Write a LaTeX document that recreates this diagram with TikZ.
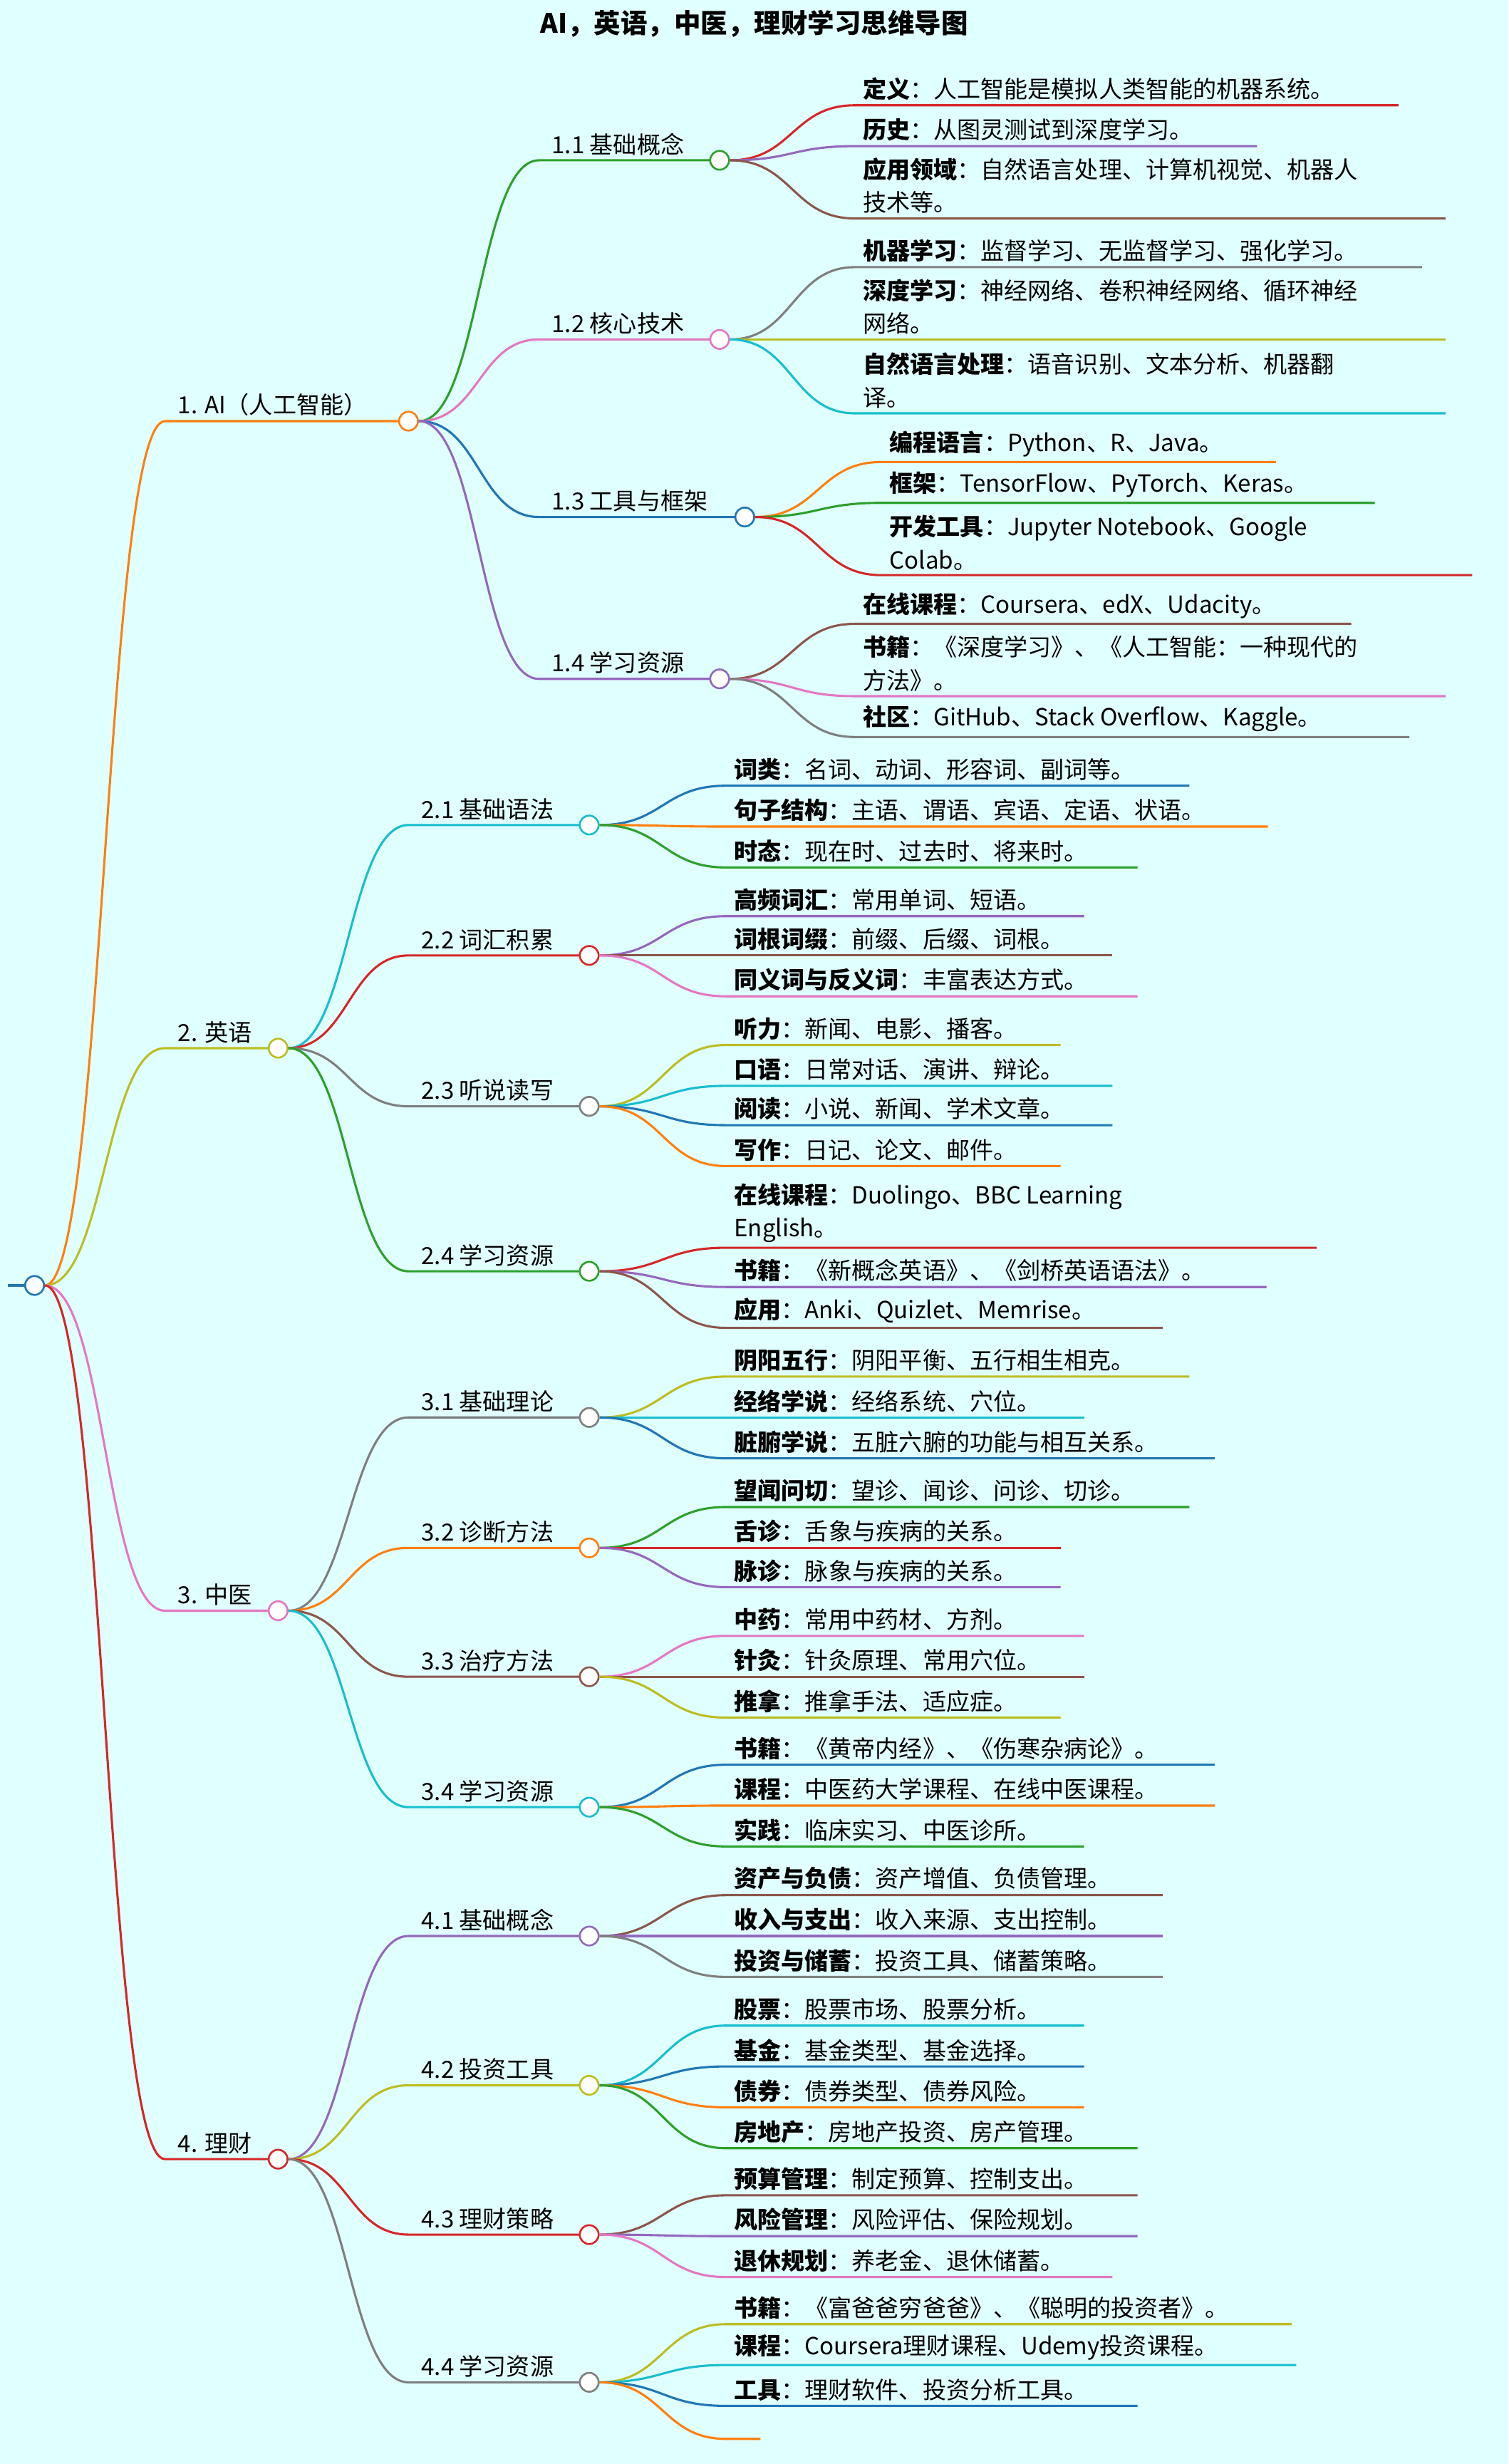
\documentclass[tikz,border=0pt]{standalone}
\usepackage{fontspec}
\setmainfont{Noto Sans CJK SC}
\usetikzlibrary{calc}
\definecolor{cblue}{HTML}{1F77B4}\definecolor{corange}{HTML}{FF7F0E}
\definecolor{cgreen}{HTML}{2CA02C}\definecolor{cred}{HTML}{D62728}
\definecolor{cpurple}{HTML}{9467BD}\definecolor{cbrown}{HTML}{8C564B}
\definecolor{cpink}{HTML}{E377C2}\definecolor{cgray}{HTML}{7F7F7F}
\definecolor{colive}{HTML}{BCBD22}\definecolor{ccyan}{HTML}{17BECF}
\definecolor{bgc}{HTML}{E0FFFF}
\tikzset{edge/.style={line width=1.4pt},
 dot/.style={circle,draw=#1,fill=white,line width=1.2pt,minimum size=12pt,inner sep=0pt},
 txt/.style={anchor=south west,inner sep=0pt,align=left,font=\fontsize{15}{21}\selectfont}}
% #1 parent, #2 textx, #3 liney, #4 endx, #5 color, #6 text, #7 id
\newcommand\conn[3]{\coordinate (#3m) at ($(#1.east)!.5!(#2)$);
 \draw[edge,#3c] (#1.east) .. controls (#3m |- #1.east) and (#3m |- #2) .. (#2);}
\newcommand\lf[7]{\coordinate (#7s) at (#2-5,#3);\coordinate (#7e) at (#4,#3);
 \coordinate (#7m) at ($(#1.east)!.5!(#7s)$);
 \draw[edge,#5] (#1.east) .. controls (#7m |- #1.east) and (#7m |- #7s) .. (#7s) -- (#7e);
 \node[txt] (#7t) at (#2,#3-3) {#6};}
% branch: #1 parent, #2 textx, #3 liney, #4 circle x, #5 color, #6 text, #7 id
\newcommand\br[7]{\coordinate (#7s) at (#2-8,#3);
 \coordinate (#7m) at ($(#1.east)!.5!(#7s)$);
 \draw[edge,#5] (#1.east) .. controls (#7m |- #1.east) and (#7m |- #7s) .. (#7s) -- (#4,#3);
 \node[dot=#5] (#7) at (#4,#3) {};
 \node[txt] (#7t) at (#2,#3-3) {#6};}
\begin{document}
\begin{tikzpicture}[x=1pt,y=-1pt]
\fill[bgc] (0,0) rectangle (960,1568);
\useasboundingbox (0,0) rectangle (960,1568);
\node[font=\fontsize{17}{20}\selectfont\bfseries] (title) at (480,15) {AI，英语，中医，理财学习思维导图};
\coordinate (r0) at (5,818);
\draw[edge,cblue] (r0) -- (22,818);
\node[dot=cblue] (root) at (22,818) {};
% level 1
\br{root}{113}{268}{260}{corange}{1. AI（人工智能）}{A}
\br{root}{113}{667}{177}{colive}{2. 英语}{B}
\br{root}{113}{1025}{177}{cpink}{3. 中医}{C}
\br{root}{113}{1374}{177}{cred}{4. 理财}{D}
% AI
\br{A}{351}{102}{458}{cgreen}{1.1 基础概念}{A1}
\br{A}{351}{216}{458}{cpink}{1.2 核心技术}{A2}
\br{A}{351}{329}{474}{cblue}{1.3 工具与框架}{A3}
\br{A}{351}{432}{458}{cpurple}{1.4 学习资源}{A4}
\lf{A1}{549}{67}{890}{cred}{\textbf{定义}：人工智能是模拟人类智能的机器系统。}{a11}
\lf{A1}{549}{93}{800}{cpurple}{\textbf{历史}：从图灵测试到深度学习。}{a12}
\lf{A1}{549}{139}{920}{cbrown}{\textbf{应用领域}：自然语言处理、计算机视觉、机器人\\技术等。}{a13}
\lf{A2}{549}{170}{905}{cgray}{\textbf{机器学习}：监督学习、无监督学习、强化学习。}{a21}
\lf{A2}{549}{216}{920}{colive}{\textbf{深度学习}：神经网络、卷积神经网络、循环神经\\网络。}{a22}
\lf{A2}{549}{263}{920}{ccyan}{\textbf{自然语言处理}：语音识别、文本分析、机器翻\\译。}{a23}
\lf{A3}{566}{294}{812}{corange}{\textbf{编程语言}：Python、R、Java。}{a31}
\lf{A3}{566}{320}{875}{cgreen}{\textbf{框架}：TensorFlow、PyTorch、Keras。}{a32}
\lf{A3}{566}{366}{937}{cred}{\textbf{开发工具}：Jupyter Notebook、Google\\Colab。}{a33}
\lf{A4}{549}{397}{860}{cbrown}{\textbf{在线课程}：Coursera、edX、Udacity。}{a41}
\lf{A4}{549}{443}{920}{cpink}{\textbf{书籍}：《深度学习》、《人工智能：一种现代的\\方法》。}{a42}
\lf{A4}{549}{469}{897}{cgray}{\textbf{社区}：GitHub、Stack Overflow、Kaggle。}{a43}
% English
\br{B}{268}{525}{375}{ccyan}{2.1 基础语法}{B1}
\br{B}{268}{608}{375}{cred}{2.2 词汇积累}{B2}
\br{B}{268}{704}{375}{cgray}{2.3 听说读写}{B3}
\br{B}{268}{809}{375}{cgreen}{2.4 学习资源}{B4}
\lf{B1}{467}{500}{757}{cblue}{\textbf{词类}：名词、动词、形容词、副词等。}{b11}
\lf{B1}{467}{526}{807}{corange}{\textbf{句子结构}：主语、谓语、宾语、定语、状语。}{b12}
\lf{B1}{467}{552}{724}{cgreen}{\textbf{时态}：现在时、过去时、将来时。}{b13}
\lf{B2}{467}{583}{690}{cpurple}{\textbf{高频词汇}：常用单词、短语。}{b21}
\lf{B2}{467}{608}{708}{cbrown}{\textbf{词根词缀}：前缀、后缀、词根。}{b22}
\lf{B2}{467}{634}{724}{cpink}{\textbf{同义词与反义词}：丰富表达方式。}{b23}
\lf{B3}{467}{665}{675}{colive}{\textbf{听力}：新闻、电影、播客。}{b31}
\lf{B3}{467}{691}{708}{ccyan}{\textbf{口语}：日常对话、演讲、辩论。}{b32}
\lf{B3}{467}{716}{708}{cblue}{\textbf{阅读}：小说、新闻、学术文章。}{b33}
\lf{B3}{467}{742}{675}{corange}{\textbf{写作}：日记、论文、邮件。}{b34}
\lf{B4}{467}{794}{838}{cred}{\textbf{在线课程}：Duolingo、BBC Learning\\English。}{b41}
\lf{B4}{467}{819}{806}{cpurple}{\textbf{书籍}：《新概念英语》、《剑桥英语语法》。}{b42}
\lf{B4}{467}{845}{740}{cbrown}{\textbf{应用}：Anki、Quizlet、Memrise。}{b43}
% TCM
\br{C}{268}{902}{375}{cgray}{3.1 基础理论}{C1}
\br{C}{268}{985}{375}{corange}{3.2 诊断方法}{C2}
\br{C}{268}{1067}{375}{cbrown}{3.3 治疗方法}{C3}
\br{C}{268}{1150}{375}{ccyan}{3.4 学习资源}{C4}
\lf{C1}{467}{876}{757}{colive}{\textbf{阴阳五行}：阴阳平衡、五行相生相克。}{c11}
\lf{C1}{467}{902}{690}{ccyan}{\textbf{经络学说}：经络系统、穴位。}{c12}
\lf{C1}{467}{928}{773}{cblue}{\textbf{脏腑学说}：五脏六腑的功能与相互关系。}{c13}
\lf{C2}{467}{959}{757}{cgreen}{\textbf{望闻问切}：望诊、闻诊、问诊、切诊。}{c21}
\lf{C2}{467}{985}{675}{cred}{\textbf{舌诊}：舌象与疾病的关系。}{c22}
\lf{C2}{467}{1010}{675}{cpurple}{\textbf{脉诊}：脉象与疾病的关系。}{c23}
\lf{C3}{467}{1041}{690}{cpink}{\textbf{中药}：常用中药材、方剂。}{c31}
\lf{C3}{467}{1067}{690}{cbrown}{\textbf{针灸}：针灸原理、常用穴位。}{c32}
\lf{C3}{467}{1093}{675}{colive}{\textbf{推拿}：推拿手法、适应症。}{c33}
\lf{C4}{467}{1123}{773}{cblue}{\textbf{书籍}：《黄帝内经》、《伤寒杂病论》。}{c41}
\lf{C4}{467}{1149}{773}{corange}{\textbf{课程}：中医药大学课程、在线中医课程。}{c42}
\lf{C4}{467}{1175}{690}{cgreen}{\textbf{实践}：临床实习、中医诊所。}{c43}
% Finance
\br{D}{268}{1232}{375}{cpurple}{4.1 基础概念}{D1}
\br{D}{268}{1327}{375}{colive}{4.2 投资工具}{D2}
\br{D}{268}{1422}{375}{cred}{4.3 理财策略}{D3}
\br{D}{268}{1516}{375}{cgray}{4.4 学习资源}{D4}
\lf{D1}{467}{1206}{740}{cbrown}{\textbf{资产与负债}：资产增值、负债管理。}{d11}
\lf{D1}{467}{1232}{740}{cpurple}{\textbf{收入与支出}：收入来源、支出控制。}{d12}
\lf{D1}{467}{1258}{740}{cgray}{\textbf{投资与储蓄}：投资工具、储蓄策略。}{d13}
\lf{D2}{467}{1289}{690}{ccyan}{\textbf{股票}：股票市场、股票分析。}{d21}
\lf{D2}{467}{1315}{690}{cblue}{\textbf{基金}：基金类型、基金选择。}{d22}
\lf{D2}{467}{1341}{690}{corange}{\textbf{债券}：债券类型、债券风险。}{d23}
\lf{D2}{467}{1367}{724}{cgreen}{\textbf{房地产}：房地产投资、房产管理。}{d24}
\lf{D3}{467}{1397}{724}{cbrown}{\textbf{预算管理}：制定预算、控制支出。}{d31}
\lf{D3}{467}{1423}{724}{cpurple}{\textbf{风险管理}：风险评估、保险规划。}{d32}
\lf{D3}{467}{1449}{708}{cpink}{\textbf{退休规划}：养老金、退休储蓄。}{d33}
\lf{D4}{467}{1479}{822}{colive}{\textbf{书籍}：《富爸爸穷爸爸》、《聪明的投资者》。}{d41}
\lf{D4}{467}{1505}{825}{ccyan}{\textbf{课程}：Coursera理财课程、Udemy投资课程。}{d42}
\lf{D4}{467}{1531}{724}{cblue}{\textbf{工具}：理财软件、投资分析工具。}{d43}
\lf{D4}{467}{1552}{484}{corange}{}{d44}
\end{tikzpicture}
\end{document}
